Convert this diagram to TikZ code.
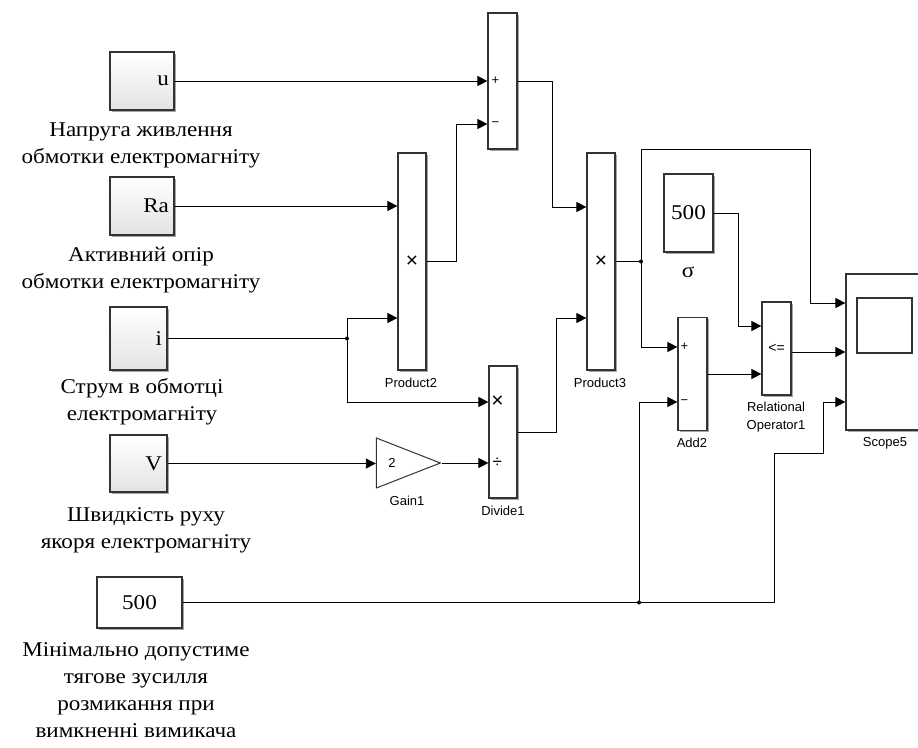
\documentclass[tikz,border=0pt]{standalone}
\usepackage{fontspec}
\setmainfont{Liberation Serif}
\setsansfont{Liberation Sans}
\newfontfamily\descfont{Liberation Serif}[FakeStretch=1.1]
\usetikzlibrary{arrows.meta, positioning, shapes.geometric, shadows, calc}
\definecolor{edgegray}{RGB}{51,51,51}

\begin{document}
\begin{tikzpicture}[
    x=1pt, y=-1pt,
    shd/.style={drop shadow={shadow xshift=1.5pt, shadow yshift=-1.5pt, opacity=.35, fill=black}},
    blk/.style={draw=edgegray, line width=1.2pt, fill=white, shd, inner sep=0pt, font=\sffamily\fontsize{21}{22}\selectfont},
    src/.style={blk, top color=white, bottom color=gray!22, font=\descfont\fontsize{21}{24}\selectfont, align=right, inner xsep=5pt},
    cst/.style={blk, font=\descfont\fontsize{21}{24}\selectfont},
    gain/.style={draw=edgegray, line width=1pt, fill=white, isosceles triangle, isosceles triangle stretches,
        minimum width=50pt, minimum height=64pt, inner sep=0pt, font=\sffamily\fontsize{13}{14}\selectfont},
    desc/.style={font=\descfont\fontsize{21}{27}\selectfont, align=center},
    tag/.style={font=\sffamily\fontsize{13}{18}\selectfont, align=center},
    sgn/.style={font=\sffamily\fontsize{13}{14}\selectfont, inner sep=0pt},
    sig/.style={line width=0.9pt, -{Triangle[length=10pt, width=10pt]}},
    wire/.style={line width=0.9pt}
]
    \clip (0,0) rectangle (918,747);

    % sources
    \node[src, text width=54pt, minimum height=58pt] (u) at (142,81) {u};
    \node[src, text width=54pt, minimum height=58pt] (ra) at (142,206) {Ra};
    \node[src, text width=47pt, minimum height=63pt] (i) at (138.5,338.5) {i};
    \node[src, text width=47pt, minimum height=57pt] (v) at (138.5,463.5) {V};
    \node[cst, minimum width=85pt, minimum height=51pt] (cmin) at (139.5,602.5) {500};
    \node[cst, minimum width=49pt, minimum height=78pt] (csig) at (688.5,213) {500};

    \node[desc] (ulab) at (141,145) {Напруга живлення\\обмотки електромагніту};
    \node[desc] (ralab) at (141,270) {Активний опір\\обмотки електромагніту};
    \node[desc] (ilab) at (142,402) {Струм в обмотці\\електромагніту};
    \node[desc] (vlab) at (146,530) {Швидкість руху\\якоря електромагніту};
    \node[desc] (cminlab) at (136,690) {Мінімально допустиме\\тягове зусилля\\розмикання при\\вимкненні вимикача};
    \node[desc] (csiglab) at (688,272) {σ};

    % blocks
    \node[blk, minimum width=29pt, minimum height=136pt] (sum1) at (502.5,81) {};
    \node[blk, minimum width=28pt, minimum height=217pt] (prod2) at (412,261.5) {×};
    \node[blk, minimum width=28pt, minimum height=217pt] (prod3) at (601,261.5) {×};
    \node[blk, minimum width=28pt, minimum height=132pt] (div) at (503,432) {};
    \node[gain] (gain) at (392,463) {2};
    \node[blk, minimum width=29pt, minimum height=113pt] (add2) at (692.5,374) {};
    \node[blk, minimum width=29pt, minimum height=93pt, font=\sffamily\fontsize{14}{14}\selectfont] (relop) at (776.5,348.5) {<=};
    \node[blk, minimum width=90pt, minimum height=156pt] (scope) at (891,352) {};
    \node[draw=edgegray, line width=1.2pt, minimum width=55pt, minimum height=55pt, inner sep=0pt] (scr) at (884.5,325.5) {};

    \node[sgn] (s1p) at ([xshift=8pt]sum1.west) {+};
    \node[sgn] (s1m) at ([xshift=8pt,yshift=-43pt]sum1.west) {−};
    \node[sgn, font=\sffamily\fontsize{21}{22}\selectfont] (dmul) at ([xshift=9pt,yshift=30pt]div.west) {×};
    \node[sgn, font=\sffamily\fontsize{17}{18}\selectfont] (ddiv) at ([xshift=9pt,yshift=-31pt]div.west) {÷};
    \node[sgn] (a2p) at ([xshift=7pt,yshift=27pt]add2.west) {+};
    \node[sgn] (a2m) at ([xshift=7pt,yshift=-28pt]add2.west) {−};

    \node[tag] (p2lab) at (411,383) {Product2};
    \node[tag] (p3lab) at (600,383) {Product3};
    \node[tag] (dlab) at (503,511) {Divide1};
    \node[tag] (glab) at (407,501) {Gain1};
    \node[tag] (alab) at (692,443) {Add2};
    \node[tag] (rlab) at (776,417) {Relational\\Operator1};
    \node[tag] (slab) at (885,443) {Scope5};

    % wiring
    \coordinate (jI) at (347,338.5);
    \coordinate (jP) at (641,261.5);
    \coordinate (jC) at (639,602.5);

    \draw[sig] (u.east) -- (u.east -| sum1.west);
    \draw[sig] (ra.east) -- (ra.east -| prod2.west);
    \draw[wire] (i.east) -- (jI);
    \draw[sig] (jI) |- ([yshift=-56.5pt]prod2.west);
    \draw[sig] (jI) |- ([yshift=30pt]div.west);
    \draw[sig] (v.east) -- (v.east -| gain.lower side);
    \draw[sig] (gain.apex) -- (gain.apex -| div.west);
    \draw[sig] (prod2.east) -- ++(30,0) |- ([yshift=-43pt]sum1.west);
    \draw[sig] (sum1.east) -- ++(35,0) |- ([yshift=54.5pt]prod3.west);
    \draw[sig] (div.east) -- ++(39,0) |- ([yshift=-56.5pt]prod3.west);
    \draw[wire] (prod3.east) -- (jP);
    \draw[sig] (jP) -- ++(0,-112.5) -| ([xshift=-35pt,yshift=49pt]scope.west) -- ([yshift=49pt]scope.west);
    \draw[sig] (jP) |- ([yshift=27pt]add2.west);
    \draw[sig] (csig.east) -- ++(25,0) |- ([yshift=22.5pt]relop.west);
    \draw[sig] (add2.east) -- (add2.east -| relop.west);
    \draw[sig] (relop.east |- scope.west) -- (scope.west);
    \draw[wire] (cmin.east) -- (jC);
    \draw[sig] (jC) |- ([yshift=-28pt]add2.west);
    \draw[sig] (jC) -- ++(135,0) -- ++(0,-149.5) -| ([xshift=-22pt,yshift=-50pt]scope.west) -- ([yshift=-50pt]scope.west);

    \fill (jI) circle (2pt);
    \fill (jP) circle (2pt);
    \fill (jC) circle (2pt);
\end{tikzpicture}
\end{document}
